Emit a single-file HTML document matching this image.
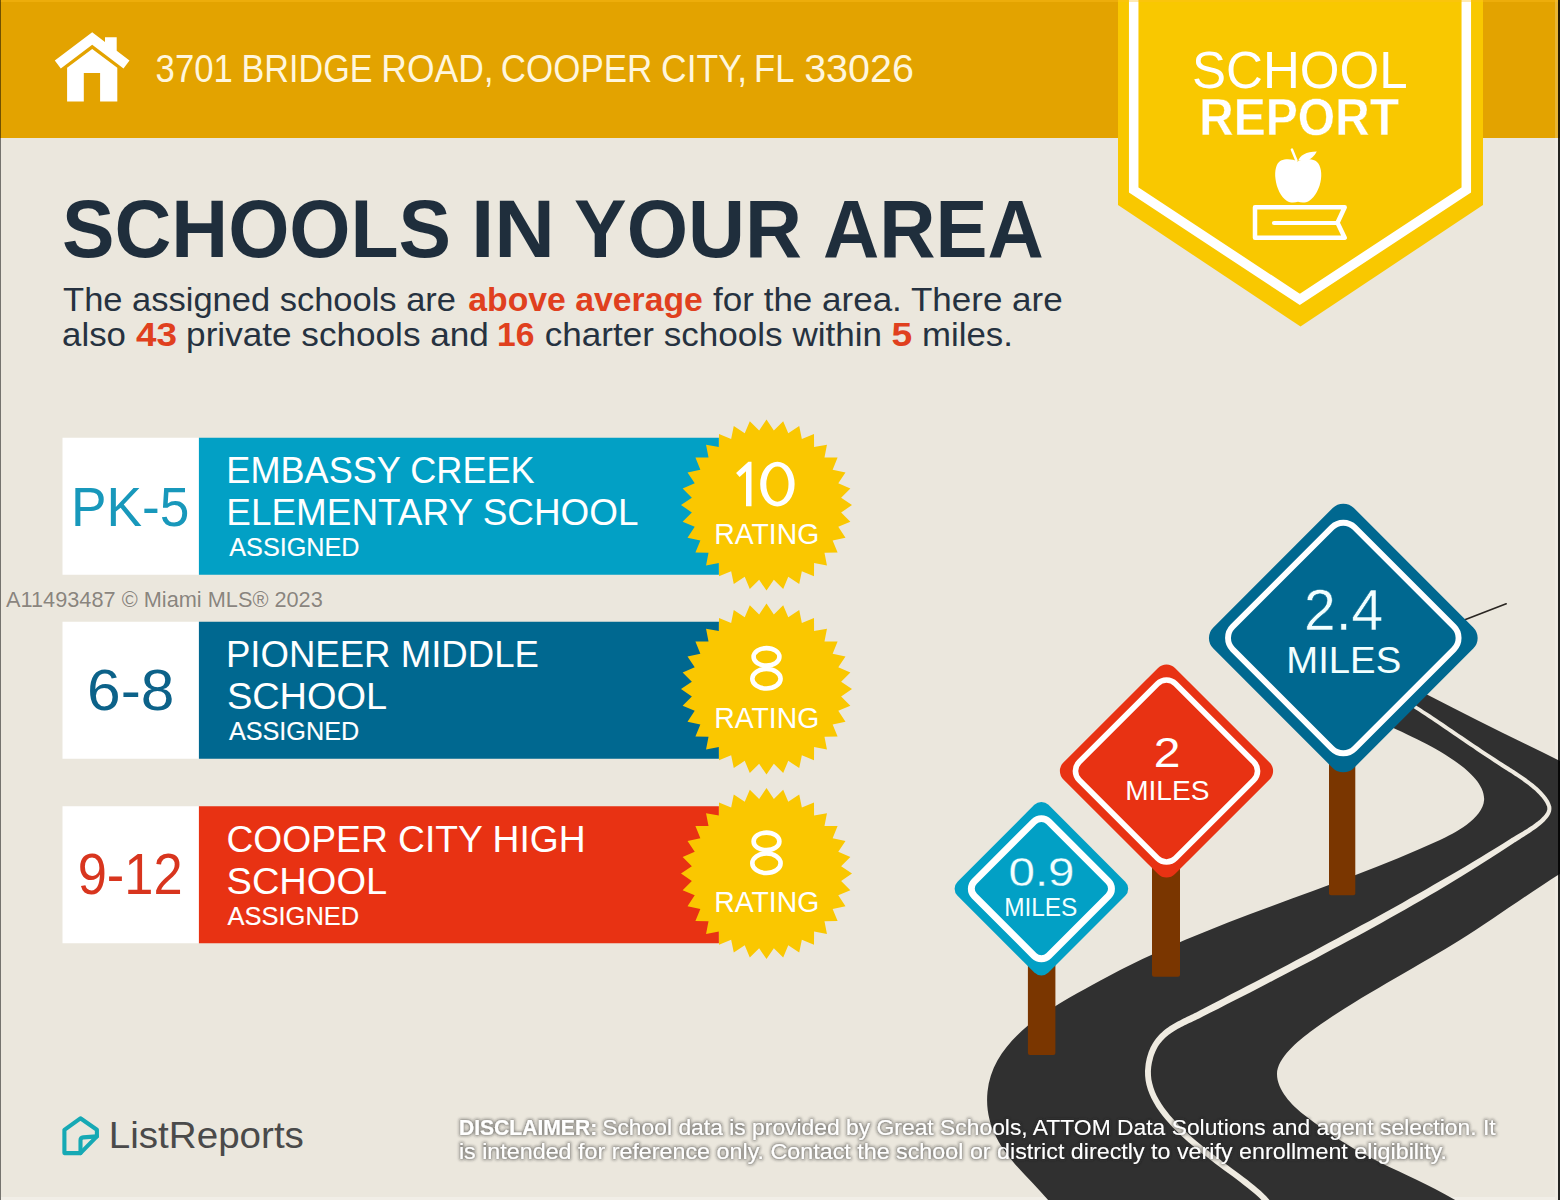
<!DOCTYPE html>
<html><head><meta charset="utf-8">
<style>
html,body{margin:0;padding:0;width:1560px;height:1200px;overflow:hidden;background:#ebe7dd;}
svg{display:block;}
text{font-family:"Liberation Sans",sans-serif;}
</style></head>
<body>
<svg width="1560" height="1200" viewBox="0 0 1560 1200">
<rect x="0" y="0" width="1560" height="1200" fill="#ebe7dd"/>
<rect x="0" y="0" width="1560" height="138" fill="#e3a300"/>
<rect x="1555" y="0" width="3" height="1200" fill="#ffffff" fill-opacity="0.2"/>
<rect x="1" y="1197" width="1554" height="3" fill="#ffffff" fill-opacity="0.3"/>
<g fill="#ffffff">
  <polygon points="92.2,32.2 54.8,60.5 60.8,68.5 92.2,44.8 123.5,68.5 129.5,60.5 116.7,50.8 116.7,37.3 105,37.3 105,41.9"/>
  <polygon points="67.1,101.5 67.1,67.7 92.2,49 117.3,67.7 117.3,101.5 100.1,101.5 100.1,72.9 83.8,72.9 83.8,101.5"/>
</g>
<text x="155.60" y="82.00" font-size="38.7" fill="#fff6dd"  textLength="77.20" lengthAdjust="spacingAndGlyphs">3701</text>
<text x="241.60" y="82.00" font-size="38.7" fill="#fff6dd"  textLength="130.90" lengthAdjust="spacingAndGlyphs">BRIDGE</text>
<text x="381.30" y="82.00" font-size="38.7" fill="#fff6dd"  textLength="112.30" lengthAdjust="spacingAndGlyphs">ROAD,</text>
<text x="500.80" y="82.00" font-size="38.7" fill="#fff6dd"  textLength="151.50" lengthAdjust="spacingAndGlyphs">COOPER</text>
<text x="661.10" y="82.00" font-size="38.7" fill="#fff6dd"  textLength="86.10" lengthAdjust="spacingAndGlyphs">CITY,</text>
<text x="754.00" y="82.00" font-size="38.7" fill="#fff6dd"  textLength="40.40" lengthAdjust="spacingAndGlyphs">FL</text>
<text x="804.20" y="82.00" font-size="38.7" fill="#fff6dd"  textLength="109.70" lengthAdjust="spacingAndGlyphs">33026</text>
<polygon points="1118,0 1483,0 1483,205 1300.5,326.5 1118,205" fill="#f9c800"/>
<polyline points="1133.7,-10 1133.7,190 1299.8,299.4 1466.3,190 1466.3,-10" fill="none" stroke="#ffffff" stroke-width="9.5"/>
<text x="1192" y="87.7" font-size="52" fill="#ffffff" textLength="215.6" lengthAdjust="spacingAndGlyphs">SCHOOL</text>
<text x="1199" y="134.5" font-size="52.3" font-weight="bold" fill="#ffffff" stroke="#f9c800" stroke-width="0.4" textLength="200" lengthAdjust="spacingAndGlyphs">REPORT</text>
<g fill="#ffffff">
 <path d="M1297.5 161.5 C1293 159 1286 158.5 1281 160.5 C1276 163 1274.5 171 1275.5 179 C1276.5 188 1281 197 1287 201 C1290.5 203.2 1295 202.8 1298 201.8 C1301 202.8 1305.5 203.2 1309 201 C1315 197 1320 188 1321 179 C1322 171 1320 163 1315 160.5 C1310 158.5 1302 159 1297.5 161.5 Z"/>
 <path d="M1291.9 149.6 L1296.4 160.5" stroke="#ffffff" stroke-width="2.5" stroke-linecap="round"/>
 <path d="M1298.3 160.5 C1300 155.5 1306 151.5 1316.8 151.4 C1314.5 155.5 1311.5 158.8 1306.5 160.8 Z"/>
</g>
<path d="M1255 207.3 H1344.7 L1337.5 222.7 L1344.7 237.7 H1255 Z" fill="none" stroke="#ffffff" stroke-width="4.5" stroke-linejoin="round"/>
<path d="M1274 223 H1337" stroke="#ffffff" stroke-width="4.2" stroke-linecap="round"/>
<text x="62.00" y="257.00" font-size="80.7" fill="#1f2e3c" font-weight="bold" textLength="389.10" lengthAdjust="spacingAndGlyphs">SCHOOLS</text>
<text x="470.90" y="257.00" font-size="80.7" fill="#1f2e3c" font-weight="bold" textLength="84.10" lengthAdjust="spacingAndGlyphs">IN</text>
<text x="574.00" y="257.00" font-size="80.7" fill="#1f2e3c" font-weight="bold" textLength="228.00" lengthAdjust="spacingAndGlyphs">YOUR</text>
<text x="823.00" y="257.00" font-size="80.7" fill="#1f2e3c" font-weight="bold" textLength="220.90" lengthAdjust="spacingAndGlyphs">AREA</text>
<text x="63.10" y="311.00" font-size="33.9" fill="#263240"  textLength="392.90" lengthAdjust="spacingAndGlyphs">The assigned schools are</text>
<text x="468.30" y="311.00" font-size="33.9" fill="#e0401e" font-weight="bold" textLength="234.50" lengthAdjust="spacingAndGlyphs">above average</text>
<text x="713.10" y="311.00" font-size="33.9" fill="#263240"  textLength="349.60" lengthAdjust="spacingAndGlyphs">for the area. There are</text>
<text x="62.10" y="345.80" font-size="33.9" fill="#263240"  textLength="63.90" lengthAdjust="spacingAndGlyphs">also</text>
<text x="135.90" y="345.80" font-size="33.9" fill="#e0401e" font-weight="bold" textLength="41.00" lengthAdjust="spacingAndGlyphs">43</text>
<text x="186.10" y="345.80" font-size="33.9" fill="#263240"  textLength="302.80" lengthAdjust="spacingAndGlyphs">private schools and</text>
<text x="497.10" y="345.80" font-size="33.9" fill="#e0401e" font-weight="bold" textLength="37.40" lengthAdjust="spacingAndGlyphs">16</text>
<text x="544.80" y="345.80" font-size="33.9" fill="#263240"  textLength="337.30" lengthAdjust="spacingAndGlyphs">charter schools within</text>
<text x="891.40" y="345.80" font-size="33.9" fill="#e0401e" font-weight="bold" textLength="20.70" lengthAdjust="spacingAndGlyphs">5</text>
<text x="922.00" y="345.80" font-size="33.9" fill="#263240"  textLength="90.80" lengthAdjust="spacingAndGlyphs">miles.</text>
<defs><polygon id="star" points="0.00,-85.50 7.35,-74.64 16.68,-83.86 21.77,-71.77 32.72,-78.99 35.35,-66.14 47.50,-71.09 47.58,-57.98 60.46,-60.46 57.98,-47.58 71.09,-47.50 66.14,-35.35 78.99,-32.72 71.77,-21.77 83.86,-16.68 74.64,-7.35 85.50,0.00 74.64,7.35 83.86,16.68 71.77,21.77 78.99,32.72 66.14,35.35 71.09,47.50 57.98,47.58 60.46,60.46 47.58,57.98 47.50,71.09 35.35,66.14 32.72,78.99 21.77,71.77 16.68,83.86 7.35,74.64 0.00,85.50 -7.35,74.64 -16.68,83.86 -21.77,71.77 -32.72,78.99 -35.35,66.14 -47.50,71.09 -47.58,57.98 -60.46,60.46 -57.98,47.58 -71.09,47.50 -66.14,35.35 -78.99,32.72 -71.77,21.77 -83.86,16.68 -74.64,7.35 -85.50,0.00 -74.64,-7.35 -83.86,-16.68 -71.77,-21.77 -78.99,-32.72 -66.14,-35.35 -71.09,-47.50 -57.98,-47.58 -60.46,-60.46 -47.58,-57.98 -47.50,-71.09 -35.35,-66.14 -32.72,-78.99 -21.77,-71.77 -16.68,-83.86 -7.35,-74.64"/></defs>
<rect x="62.5" y="437.75" width="136.5" height="137" fill="#ffffff"/>
<rect x="198.9" y="437.75" width="520" height="137" fill="#02a0c5"/>
<use href="#star" x="766.5" y="505.1" fill="#fac700"/>
<text x="70.90" y="525.80" font-size="55.5" fill="#1898bb"  textLength="118.50" lengthAdjust="spacingAndGlyphs">PK-5</text>
<text x="226.30" y="483.10" font-size="36.9" fill="#ffffff"  textLength="308.40" lengthAdjust="spacingAndGlyphs">EMBASSY CREEK</text>
<text x="226.30" y="525.20" font-size="36.9" fill="#ffffff"  textLength="412.20" lengthAdjust="spacingAndGlyphs">ELEMENTARY SCHOOL</text>
<text x="229.30" y="555.90" font-size="25.9" fill="#ffffff" stroke="#ffffff" stroke-width="0.15" textLength="130.10" lengthAdjust="spacingAndGlyphs">ASSIGNED</text>
<g fill="#ffffff"><polygon points="751.5,461.7 751.5,506.3 746,506.3 746,471.3 739.6,476.9 736.1,473 748.4,461.7"/><path fill-rule="evenodd" d="M760.2 484.1 A17.2 22.3 0 1 0 794.6 484.1 A17.2 22.3 0 1 0 760.2 484.1 Z M766.3 484.1 A11.1 17.6 0 1 0 788.5 484.1 A11.1 17.6 0 1 0 766.3 484.1 Z"/></g>
<text x="714.25" y="543.75" font-size="29" fill="#ffffff"  textLength="105.00" lengthAdjust="spacingAndGlyphs">RATING</text>
<rect x="62.5" y="621.75" width="136.5" height="137" fill="#ffffff"/>
<rect x="198.9" y="621.75" width="520" height="137" fill="#006890"/>
<use href="#star" x="766.5" y="689.1" fill="#fac700"/>
<text x="87.10" y="710.30" font-size="57.5" fill="#0c6289"  textLength="87.30" lengthAdjust="spacingAndGlyphs">6-8</text>
<text x="225.90" y="667.00" font-size="36.9" fill="#ffffff"  textLength="313.00" lengthAdjust="spacingAndGlyphs">PIONEER MIDDLE</text>
<text x="226.90" y="709.20" font-size="36.9" fill="#ffffff"  textLength="160.30" lengthAdjust="spacingAndGlyphs">SCHOOL</text>
<text x="228.90" y="740.10" font-size="25.9" fill="#ffffff" stroke="#ffffff" stroke-width="0.15" textLength="130.30" lengthAdjust="spacingAndGlyphs">ASSIGNED</text>
<g fill="none" stroke="#ffffff" stroke-width="4.6"><ellipse cx="766.5" cy="656.90" rx="12.9" ry="8.75"/><ellipse cx="766.45" cy="678.75" rx="14.15" ry="9.75"/></g>
<text x="714.25" y="728.10" font-size="29" fill="#ffffff"  textLength="105.00" lengthAdjust="spacingAndGlyphs">RATING</text>
<rect x="62.5" y="806.25" width="136.5" height="137" fill="#ffffff"/>
<rect x="198.9" y="806.25" width="520" height="137" fill="#e83213"/>
<use href="#star" x="766.5" y="873.6" fill="#fac700"/>
<text x="77.70" y="894.40" font-size="57.5" fill="#d8351e"  textLength="105.00" lengthAdjust="spacingAndGlyphs">9-12</text>
<text x="226.50" y="851.50" font-size="36.9" fill="#ffffff"  textLength="359.10" lengthAdjust="spacingAndGlyphs">COOPER CITY HIGH</text>
<text x="226.50" y="894.20" font-size="36.9" fill="#ffffff"  textLength="160.70" lengthAdjust="spacingAndGlyphs">SCHOOL</text>
<text x="227.50" y="924.60" font-size="25.9" fill="#ffffff" stroke="#ffffff" stroke-width="0.15" textLength="131.70" lengthAdjust="spacingAndGlyphs">ASSIGNED</text>
<g fill="none" stroke="#ffffff" stroke-width="4.6"><ellipse cx="766.5" cy="841.40" rx="12.9" ry="8.75"/><ellipse cx="766.45" cy="863.25" rx="14.15" ry="9.75"/></g>
<text x="714.25" y="912.30" font-size="29" fill="#ffffff"  textLength="105.00" lengthAdjust="spacingAndGlyphs">RATING</text>
<path d="M 1052.0 1205.0 C 1029.0 1173.9 982.2 1145.6 987.5 1091.7 C 993.0 1036.1 1056.5 1004.5 1100.0 980.7 C 1211.5 919.8 1328.9 891.1 1440.0 840.0 C 1453.6 833.7 1482.9 818.7 1484.1 800.0 C 1485.6 776.0 1443.6 753.3 1425.6 743.6 C 1406.0 733.0 1363.4 714.7 1340.0 703.0 L 1330 690 L 1370 660 L 1380.0 670.0 C 1411.6 686.4 1445.2 704.2 1476.9 720.0 C 1506.5 734.8 1536.2 749.1 1566.0 764.0 L 1566 870 L 1566.0 870.0 C 1533.7 889.8 1494.1 918.7 1460.0 940.0 C 1417.6 966.5 1346.8 1004.0 1310.0 1032.0 C 1299.3 1040.1 1277.0 1057.9 1277.0 1074.0 C 1277.0 1089.8 1291.7 1105.1 1303.0 1114.0 C 1366.4 1163.6 1402.6 1168.5 1462.0 1204.0 L 1052 1205 Z" fill="#303030"/>
<path d="M 1270.3 1201.1 L 1268.4 1198.7 L 1266.2 1196.2 L 1263.6 1193.7 L 1260.8 1191.1 L 1257.8 1188.5 L 1254.6 1185.7 L 1251.1 1183.0 L 1247.5 1180.1 L 1243.7 1177.2 L 1239.8 1174.3 L 1235.7 1171.3 L 1231.6 1168.2 L 1227.3 1165.1 L 1223.0 1161.9 L 1218.7 1158.6 L 1214.3 1155.3 L 1209.9 1151.9 L 1205.5 1148.5 L 1201.2 1145.0 L 1196.9 1141.5 L 1192.7 1137.9 L 1188.6 1134.3 L 1184.6 1130.6 L 1180.7 1126.9 L 1177.0 1123.1 L 1173.4 1119.3 L 1170.0 1115.5 L 1166.9 1111.6 L 1164.0 1107.7 L 1161.3 1103.7 L 1158.9 1099.7 L 1156.7 1095.7 L 1154.9 1091.7 L 1153.4 1087.6 L 1152.3 1083.6 L 1151.4 1079.5 L 1151.0 1075.4 L 1150.9 1071.2 L 1151.2 1067.0 L 1151.6 1064.6 L 1152.0 1062.2 L 1152.6 1059.9 L 1153.1 1057.7 L 1153.8 1055.6 L 1154.5 1053.7 L 1155.3 1051.8 L 1156.1 1050.0 L 1157.0 1048.3 L 1157.9 1046.6 L 1158.9 1045.1 L 1160.0 1043.6 L 1161.1 1042.2 L 1162.3 1040.8 L 1163.5 1039.5 L 1164.7 1038.2 L 1166.0 1037.0 L 1167.3 1035.9 L 1168.7 1034.8 L 1170.2 1033.7 L 1171.6 1032.7 L 1173.1 1031.7 L 1174.7 1030.7 L 1176.3 1029.7 L 1177.9 1028.8 L 1179.5 1027.9 L 1181.2 1027.0 L 1182.9 1026.2 L 1184.6 1025.3 L 1186.4 1024.4 L 1188.2 1023.6 L 1190.0 1022.8 L 1191.8 1021.9 L 1193.6 1021.1 L 1195.4 1020.2 L 1197.3 1019.3 L 1199.1 1018.4 L 1201.0 1017.5 L 1202.8 1016.6 L 1210.6 1012.6 L 1218.4 1008.7 L 1226.3 1004.6 L 1234.2 1000.6 L 1242.2 996.5 L 1250.2 992.4 L 1258.3 988.2 L 1266.4 984.0 L 1274.5 979.8 L 1282.7 975.6 L 1290.8 971.3 L 1299.0 967.0 L 1307.3 962.7 L 1315.5 958.4 L 1323.7 954.0 L 1332.0 949.6 L 1340.2 945.2 L 1348.5 940.8 L 1356.7 936.4 L 1365.0 931.9 L 1373.1 927.4 L 1381.3 922.9 L 1389.5 918.3 L 1397.6 913.7 L 1405.7 909.2 L 1413.8 904.6 L 1421.8 899.9 L 1429.8 895.3 L 1437.7 890.7 L 1445.6 886.0 L 1453.4 881.3 L 1461.2 876.6 L 1468.9 871.8 L 1476.5 867.1 L 1484.0 862.3 L 1491.5 857.6 L 1498.9 852.8 L 1506.2 848.0 L 1513.4 843.2 L 1514.4 842.6 L 1515.5 841.9 L 1516.6 841.2 L 1517.8 840.4 L 1519.0 839.7 L 1520.2 838.9 L 1521.5 838.1 L 1522.8 837.3 L 1524.1 836.4 L 1525.5 835.6 L 1526.8 834.7 L 1528.2 833.8 L 1529.6 832.9 L 1531.0 832.0 L 1532.3 831.1 L 1533.7 830.1 L 1535.0 829.2 L 1536.4 828.2 L 1537.7 827.2 L 1538.9 826.3 L 1540.2 825.3 L 1541.4 824.2 L 1542.5 823.2 L 1543.6 822.2 L 1544.7 821.2 L 1545.7 820.1 L 1546.6 819.1 L 1547.5 818.0 L 1548.3 816.9 L 1549.1 815.8 L 1549.7 814.7 L 1550.3 813.6 L 1550.7 812.5 L 1551.1 811.3 L 1551.3 810.1 L 1551.4 808.9 L 1551.4 807.7 L 1551.3 806.5 L 1550.9 805.4 L 1550.4 804.0 L 1549.9 802.7 L 1549.2 801.3 L 1548.5 800.0 L 1547.6 798.7 L 1546.8 797.5 L 1545.8 796.2 L 1544.8 794.9 L 1543.7 793.7 L 1542.6 792.4 L 1541.5 791.2 L 1540.2 790.0 L 1539.0 788.8 L 1537.7 787.6 L 1536.4 786.4 L 1535.0 785.3 L 1533.6 784.1 L 1532.2 783.0 L 1530.8 781.9 L 1529.3 780.7 L 1527.8 779.7 L 1526.4 778.6 L 1524.9 777.5 L 1523.4 776.5 L 1521.9 775.4 L 1520.4 774.4 L 1518.9 773.5 L 1517.5 772.5 L 1516.0 771.5 L 1514.6 770.6 L 1513.2 769.7 L 1511.8 768.8 L 1510.4 768.0 L 1509.1 767.1 L 1507.8 766.3 L 1506.6 765.5 L 1505.4 764.8 L 1504.2 764.0 L 1503.1 763.3 L 1499.4 760.9 L 1495.8 758.6 L 1492.3 756.3 L 1488.8 753.9 L 1485.3 751.7 L 1481.9 749.4 L 1478.5 747.1 L 1475.2 744.9 L 1471.9 742.7 L 1468.6 740.4 L 1465.4 738.2 L 1462.1 736.0 L 1458.9 733.9 L 1455.7 731.7 L 1452.5 729.5 L 1449.3 727.4 L 1446.2 725.2 L 1443.0 723.1 L 1439.8 721.0 L 1436.6 718.8 L 1433.5 716.7 L 1430.3 714.6 L 1427.1 712.5 L 1423.8 710.4 L 1420.6 708.3 L 1417.3 706.2 L 1414.0 704.1 L 1410.6 701.9 L 1407.3 699.8 L 1403.9 697.7 L 1400.4 695.6 L 1396.9 693.5 L 1393.3 691.4 L 1389.7 689.2 L 1386.1 687.1 L 1382.4 685.0 L 1378.6 682.8 L 1374.7 680.7 L 1370.8 678.5 L 1369.2 681.5 L 1373.1 683.7 L 1376.9 685.8 L 1380.6 688.0 L 1384.3 690.1 L 1388.0 692.2 L 1391.6 694.4 L 1395.1 696.5 L 1398.6 698.6 L 1402.0 700.7 L 1405.4 702.9 L 1408.7 705.0 L 1412.1 707.1 L 1415.3 709.2 L 1418.6 711.3 L 1421.8 713.4 L 1425.0 715.5 L 1428.2 717.7 L 1431.4 719.8 L 1434.6 721.9 L 1437.7 724.1 L 1440.9 726.2 L 1444.1 728.4 L 1447.2 730.5 L 1450.4 732.7 L 1453.6 734.9 L 1456.7 737.0 L 1459.9 739.2 L 1463.2 741.4 L 1466.4 743.7 L 1469.7 745.9 L 1473.0 748.1 L 1476.3 750.4 L 1479.7 752.7 L 1483.1 755.0 L 1486.6 757.3 L 1490.1 759.6 L 1493.6 762.0 L 1497.2 764.3 L 1500.9 766.7 L 1502.0 767.4 L 1503.2 768.2 L 1504.4 768.9 L 1505.6 769.7 L 1506.9 770.5 L 1508.3 771.4 L 1509.6 772.2 L 1511.0 773.1 L 1512.4 774.0 L 1513.8 774.9 L 1515.2 775.9 L 1516.7 776.8 L 1518.1 777.8 L 1519.6 778.8 L 1521.1 779.8 L 1522.5 780.8 L 1524.0 781.9 L 1525.4 782.9 L 1526.9 784.0 L 1528.3 785.1 L 1529.7 786.2 L 1531.0 787.3 L 1532.4 788.4 L 1533.7 789.5 L 1535.0 790.6 L 1536.2 791.8 L 1537.4 792.9 L 1538.5 794.1 L 1539.6 795.2 L 1540.7 796.4 L 1541.7 797.5 L 1542.6 798.7 L 1543.4 799.8 L 1544.2 801.0 L 1544.9 802.1 L 1545.6 803.3 L 1546.2 804.4 L 1546.6 805.5 L 1547.1 806.6 L 1547.2 807.3 L 1547.3 808.0 L 1547.3 808.8 L 1547.3 809.5 L 1547.1 810.3 L 1546.8 811.0 L 1546.5 811.9 L 1546.0 812.7 L 1545.5 813.6 L 1544.9 814.4 L 1544.2 815.3 L 1543.4 816.2 L 1542.5 817.1 L 1541.6 818.0 L 1540.6 819.0 L 1539.6 819.9 L 1538.5 820.8 L 1537.3 821.7 L 1536.1 822.6 L 1534.9 823.6 L 1533.6 824.5 L 1532.3 825.4 L 1531.0 826.3 L 1529.7 827.1 L 1528.3 828.0 L 1527.0 828.9 L 1525.6 829.7 L 1524.2 830.6 L 1522.9 831.4 L 1521.5 832.2 L 1520.2 833.0 L 1518.9 833.8 L 1517.6 834.6 L 1516.3 835.3 L 1515.1 836.0 L 1513.9 836.7 L 1512.7 837.4 L 1511.6 838.1 L 1510.6 838.8 L 1503.2 843.4 L 1495.9 848.0 L 1488.4 852.6 L 1480.8 857.2 L 1473.2 861.8 L 1465.5 866.4 L 1457.8 870.9 L 1450.0 875.5 L 1442.1 880.0 L 1434.2 884.6 L 1426.3 889.2 L 1418.3 893.8 L 1410.2 898.3 L 1402.2 902.9 L 1394.1 907.4 L 1385.9 911.9 L 1377.8 916.4 L 1369.6 920.9 L 1361.4 925.3 L 1353.2 929.8 L 1344.9 934.3 L 1336.7 938.7 L 1328.5 943.1 L 1320.3 947.5 L 1312.1 951.9 L 1303.9 956.3 L 1295.7 960.6 L 1287.5 964.9 L 1279.3 969.2 L 1271.2 973.5 L 1263.1 977.7 L 1255.0 981.9 L 1247.0 986.1 L 1239.0 990.2 L 1231.0 994.3 L 1223.1 998.4 L 1215.3 1002.5 L 1207.5 1006.6 L 1199.8 1010.6 L 1198.0 1011.5 L 1196.2 1012.4 L 1194.4 1013.3 L 1192.6 1014.2 L 1190.8 1015.1 L 1188.9 1016.0 L 1187.1 1016.8 L 1185.3 1017.7 L 1183.5 1018.6 L 1181.7 1019.5 L 1180.0 1020.4 L 1178.2 1021.3 L 1176.4 1022.2 L 1174.7 1023.2 L 1173.0 1024.2 L 1171.3 1025.3 L 1169.6 1026.3 L 1168.0 1027.4 L 1166.4 1028.6 L 1164.8 1029.8 L 1163.3 1031.1 L 1161.8 1032.4 L 1160.3 1033.8 L 1158.9 1035.2 L 1157.6 1036.7 L 1156.3 1038.3 L 1155.0 1039.9 L 1153.8 1041.7 L 1152.7 1043.5 L 1151.6 1045.4 L 1150.6 1047.3 L 1149.7 1049.4 L 1148.8 1051.5 L 1148.1 1053.7 L 1147.4 1056.1 L 1146.7 1058.5 L 1146.2 1061.0 L 1145.7 1063.6 L 1145.4 1066.4 L 1145.0 1071.1 L 1145.1 1075.8 L 1145.6 1080.4 L 1146.5 1085.0 L 1147.8 1089.5 L 1149.5 1093.9 L 1151.4 1098.3 L 1153.7 1102.6 L 1156.3 1106.9 L 1159.1 1111.1 L 1162.2 1115.2 L 1165.5 1119.3 L 1169.0 1123.3 L 1172.7 1127.2 L 1176.5 1131.1 L 1180.5 1135.0 L 1184.6 1138.7 L 1188.8 1142.4 L 1193.1 1146.1 L 1197.5 1149.7 L 1201.8 1153.2 L 1206.3 1156.6 L 1210.7 1160.0 L 1215.1 1163.4 L 1219.5 1166.7 L 1223.8 1169.9 L 1228.0 1173.0 L 1232.2 1176.1 L 1236.2 1179.1 L 1240.1 1182.0 L 1243.8 1184.9 L 1247.4 1187.7 L 1250.8 1190.4 L 1253.9 1193.0 L 1256.8 1195.6 L 1259.5 1198.0 L 1261.8 1200.4 L 1263.9 1202.6 L 1265.7 1204.9 Z" fill="#efebe1"/>
<path d="M 1400 652 L 1463.6 620.3 L 1506.2 603.8" stroke="#2a2622" stroke-width="1.6" fill="none" stroke-linecap="round"/>
<rect x="1329" y="760" width="26.3" height="135.3" rx="2" fill="#7a3600"/>
<rect x="1152" y="860" width="28" height="116.7" rx="2" fill="#7a3600"/>
<rect x="1027.9" y="960" width="27.5" height="95" rx="2" fill="#7a3600"/>
<g transform="translate(1343.3,638.0) rotate(45)"><rect x="-99.4" y="-99.4" width="198.8" height="198.8" rx="15.0" fill="#006890"/><rect x="-86.2" y="-86.2" width="172.4" height="172.4" rx="16.0" fill="none" stroke="#ffffff" stroke-width="5.9"/></g>
<g transform="translate(1166.5,771.0) rotate(45)"><rect x="-78.9" y="-78.9" width="157.8" height="157.8" rx="12.0" fill="#e83213"/><rect x="-68.1" y="-68.1" width="136.2" height="136.2" rx="12.7" fill="none" stroke="#ffffff" stroke-width="5.6"/></g>
<g transform="translate(1041.4,888.7) rotate(45)"><rect x="-64.3" y="-64.3" width="128.6" height="128.6" rx="10.0" fill="#02a0c5"/><rect x="-52.6" y="-52.6" width="105.2" height="105.2" rx="10.4" fill="none" stroke="#ffffff" stroke-width="6.9"/></g>
<text x="1304.00" y="629.50" font-size="58" fill="#f2ffff" stroke="#006890" stroke-width="0.5" textLength="79.20" lengthAdjust="spacingAndGlyphs">2.4</text>
<text x="1286.30" y="672.60" font-size="37.5" fill="#f2ffff"  textLength="114.90" lengthAdjust="spacingAndGlyphs">MILES</text>
<text x="1153.80" y="767.10" font-size="42" fill="#ffffff"  textLength="26.70" lengthAdjust="spacingAndGlyphs">2</text>
<text x="1125.20" y="799.70" font-size="27.8" fill="#ffffff"  textLength="84.20" lengthAdjust="spacingAndGlyphs">MILES</text>
<text x="1008.50" y="886.40" font-size="41.3" fill="#f2ffff" stroke="#02a0c5" stroke-width="0.3" textLength="66.00" lengthAdjust="spacingAndGlyphs">0.9</text>
<text x="1004.20" y="916.10" font-size="25.3" fill="#f2ffff"  textLength="73.20" lengthAdjust="spacingAndGlyphs">MILES</text>
<g fill="none" stroke="#16a9b4" stroke-width="4.1" stroke-linejoin="round" stroke-linecap="round">
 <path d="M80.4 1118.3 L96.9 1129.8 L96.9 1136.4 L80.5 1153.1 L64.4 1153.1 L64.4 1129.8 Z"/>
 <path d="M80.5 1153.1 L80.5 1140.3 Q80.5 1137.6 83.2 1137.4 L96.9 1136.4"/>
</g>
<text x="108.80" y="1147.60" font-size="36" fill="#4a4a4a"  textLength="195.10" lengthAdjust="spacingAndGlyphs">ListReports</text>
<defs><filter id="glow" x="-5%" y="-40%" width="110%" height="180%">
 <feMorphology in="SourceAlpha" operator="dilate" radius="0.6" result="d"/>
 <feGaussianBlur in="d" stdDeviation="1.4" result="b"/>
 <feFlood flood-color="#222222" flood-opacity="0.5"/>
 <feComposite in2="b" operator="in" result="s"/>
 <feMerge><feMergeNode in="s"/><feMergeNode in="SourceGraphic"/></feMerge>
</filter></defs>
<g filter="url(#glow)" fill="#ffffff" font-size="22">
<text x="458.90" y="1134.90" font-size="22" fill="#ffffff" font-weight="bold" textLength="138.30" lengthAdjust="spacingAndGlyphs">DISCLAIMER:</text>
<text x="602.20" y="1134.90" font-size="22" fill="#ffffff"  textLength="893.40" lengthAdjust="spacingAndGlyphs">School data is provided by Great Schools, ATTOM Data Solutions and agent selection. It</text>
<text x="458.90" y="1158.60" font-size="22" fill="#ffffff"  textLength="988.20" lengthAdjust="spacingAndGlyphs">is intended for reference only. Contact the school or district directly to verify enrollment eligibility.</text>
</g>
<text x="6.00" y="606.70" font-size="21.7" fill="#8a857e" stroke="#f4f1ea" stroke-width="0.6" paint-order="stroke" textLength="316.80" lengthAdjust="spacingAndGlyphs">A11493487 © Miami MLS® 2023</text>
<rect x="0" y="0" width="1560" height="2" fill="#ffc020" fill-opacity="0.35"/>
<rect x="0" y="0" width="1" height="1200" fill="#000000" fill-opacity="0.5"/>
<rect x="1558" y="0" width="2" height="1200" fill="#000000" fill-opacity="0.85"/>
</svg>
</body></html>
